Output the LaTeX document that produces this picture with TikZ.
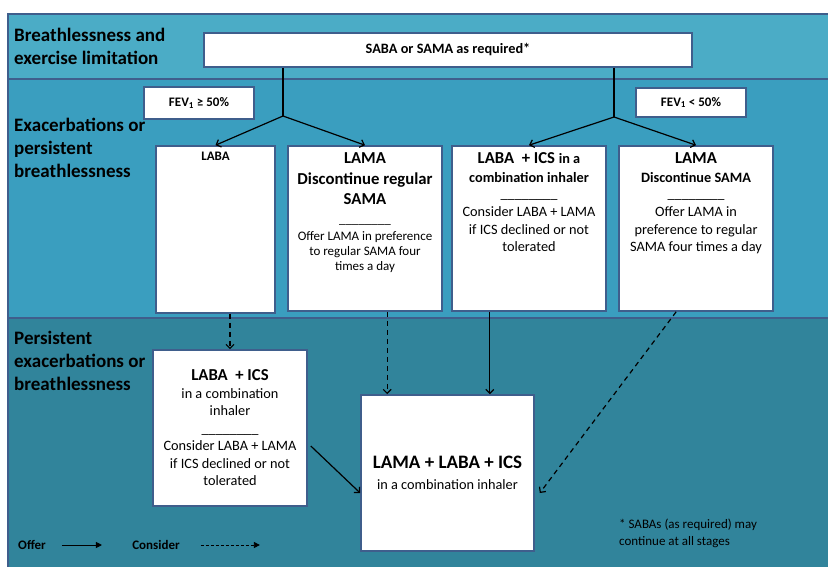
\documentclass[tikz,border=0pt]{standalone}
\usepackage{fontspec}
\setmainfont{Carlito}
\usetikzlibrary{arrows.meta}
\definecolor{bandtop}{HTML}{4BACC6}
\definecolor{bandmid}{HTML}{3A9EBF}
\definecolor{bandlow}{HTML}{31849B}
\definecolor{edge}{HTML}{3F5E8C}
\newcommand{\gapline}{\_\_\_\_\_\_\_\_}
\newcommand{\headfont}{\fontsize{16.7}{20}\selectfont\bfseries}
\newcommand{\midfont}{\fontsize{14.3}{17}\selectfont\bfseries}
\newcommand{\notefont}{\fontsize{13}{15}\selectfont}
\newcommand{\bodyfont}{\fontsize{14.3}{17.5}\selectfont}
\begin{document}
\begin{tikzpicture}[x=1pt,y=-1pt,
  box/.style={rectangle,draw=edge,line width=1.6pt,fill=white,inner sep=3pt,align=center},
  toplabel/.style={anchor=north,align=center,yshift=-4pt},
  band/.style={font=\fontsize{19}{23}\selectfont\bfseries,align=left,anchor=north west,inner sep=0pt},
  offer/.style={-{Straight Barb[length=4pt,width=8pt]},line width=1.2pt},
  consider/.style={-{Straight Barb[length=4pt,width=8pt]},line width=1.2pt,dashed,dash pattern=on 5pt off 4pt}]
\useasboundingbox (0,0) rectangle (828,567);
\fill[bandtop] (8,14) rectangle (828,79);
\fill[bandmid] (8,79) rectangle (828,318);
\fill[bandlow] (8,318) rectangle (828,567);
\draw[edge,line width=2pt] (828,14) -- (8,14) -- (8,567);
\draw[edge,line width=2.5pt] (8,79) -- (828,79) (8,318) -- (828,318);

\node[band] (stage1) at (14,28) {Breathlessness and\\exercise limitation};
\node[band] (stage2) at (14,118) {Exacerbations or\\persistent\\breathlessness};
\node[band] (stage3) at (14,331) {Persistent\\exacerbations or\\breathlessness};

\node[box,minimum width=488pt,minimum height=34pt,font=\fontsize{14.3}{16}\selectfont\bfseries] (saba) at (448,50) {SABA or SAMA as required*};
\node[box,minimum width=110pt,minimum height=32pt,font=\fontsize{13}{15}\selectfont\bfseries] (fevhi) at (199,103) {FEV\textsubscript{1} ≥ 50\%};
\node[box,minimum width=110pt,minimum height=29pt,font=\fontsize{13}{15}\selectfont\bfseries] (fevlo) at (691,102.5) {FEV\textsubscript{1} < 50\%};

\node[box,minimum width=119pt,minimum height=167pt,
  label={[toplabel,yshift=1pt,font=\fontsize{13}{15}\selectfont\bfseries]north:LABA}] (laba) at (215.5,229.5) {};
\node[box,minimum width=154pt,minimum height=165pt,
  label={[toplabel,font=\notefont]north:{\headfont LAMA\\[5.5pt]\headfont Discontinue regular\\[5pt]\headfont SAMA\\[4pt]\gapline\\[2pt]Offer LAMA in preference\\to regular SAMA four\\times a day}}] (lama) at (365,228.5) {};
\node[box,minimum width=154pt,minimum height=165pt,
  label={[toplabel,font=\bodyfont]north:{\headfont LABA\ \ + ICS \midfont in a\\[1.5pt]\midfont combination inhaler\\[-2pt]\gapline\\[1pt]Consider LABA + LAMA\\if ICS declined or not\\tolerated}}] (lamaics) at (529,228.5) {};
\node[box,minimum width=154pt,minimum height=165pt,
  label={[toplabel,font=\bodyfont]north:{\headfont LAMA\\[1.5pt]\midfont Discontinue SAMA\\[-2pt]\gapline\\[1pt]Offer LAMA in\\preference to regular\\SAMA four times a day}}] (lama2) at (696,228.5) {};

\node[box,minimum width=154pt,minimum height=156pt,font=\bodyfont] (labaics) at (230,428)
  {\headfont LABA\ \ + ICS\\in a combination\\inhaler\\\gapline\\Consider LABA + LAMA\\if ICS declined or not\\tolerated};
\node[box,minimum width=173pt,minimum height=156pt,font=\bodyfont] (triple) at (447.5,473)
  {\fontsize{19}{21}\selectfont\bfseries LAMA + LABA + ICS\\[3.5pt]in a combination inhaler};

% split from the first step
\coordinate (splitl) at (283,116);
\coordinate (splitr) at (614,117);
\draw[line width=1.2pt] (saba.south -| splitl) -- (splitl);
\draw[line width=1.2pt] (saba.south -| splitr) -- (splitr);
\draw[offer] (splitl) -- (laba.north);
\draw[offer] (splitl) -- (lama.north);
\draw[offer] (splitr) -- (lamaics.north);
\draw[offer] (splitr) -- (lama2.north);

\draw[consider] (labaics.north |- laba.south) -- (labaics.north);
\draw[consider] ([xshift=27pt]triple.north west |- lama.south) -- ([xshift=27pt]triple.north west);
\draw[offer] ([xshift=-45pt]triple.north east |- lamaics.south) -- ([xshift=-45pt]triple.north east);
\draw[consider] ([xshift=58pt]lama2.south west) -- ([xshift=5pt,yshift=-20pt]triple.east);
\draw[offer] ([xshift=3pt,yshift=-18pt]labaics.east) -- ([yshift=-20pt]triple.west);

% key
\node[font=\fontsize{13}{15}\selectfont\bfseries,inner sep=0pt] (keyoffer) at (32,545) {Offer};
\node[font=\fontsize{13}{15}\selectfont\bfseries,inner sep=0pt] (keyconsider) at (156,545) {Consider};
\draw[-{Triangle[length=6pt,width=6pt]},line width=0.8pt] ([xshift=16pt]keyoffer.east) -- ++(40,0);
\draw[-{Triangle[length=6pt,width=6pt]},line width=0.8pt,dash pattern=on 3pt off 2pt] ([xshift=21pt]keyconsider.east) -- ++(59,0);

\node[font=\fontsize{13}{17}\selectfont,align=left,anchor=north west,inner sep=0pt] (footnote) at (619,519) {* SABAs (as required) may\\continue at all stages};
\end{tikzpicture}
\end{document}
